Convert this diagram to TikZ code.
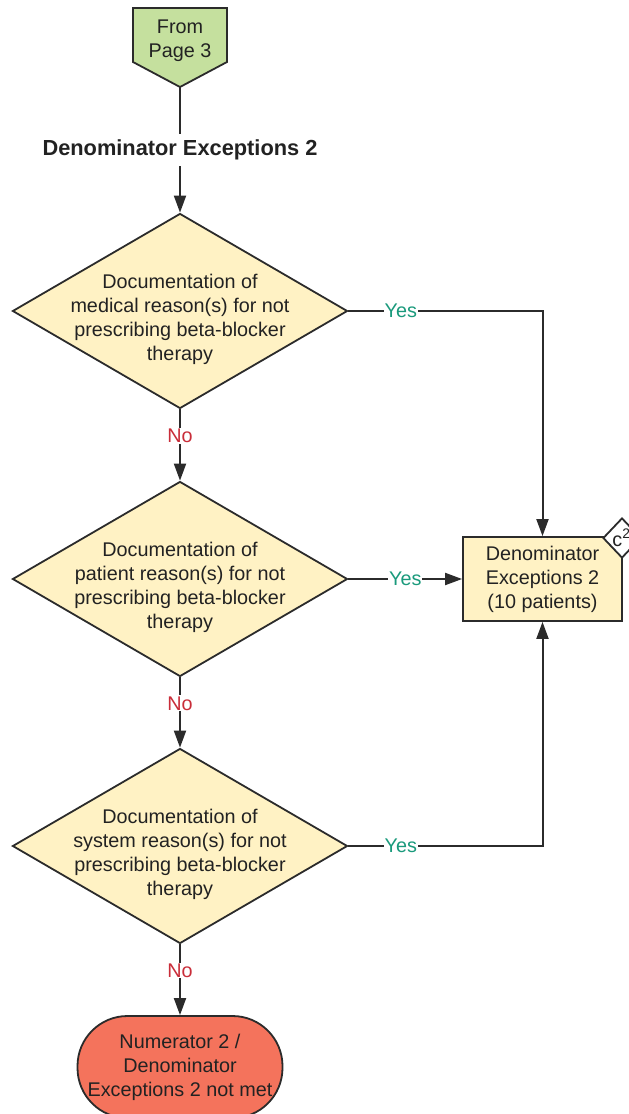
\documentclass[tikz,border=0pt]{standalone}
\usepackage{fontspec}
\setmainfont{Liberation Sans}
\usetikzlibrary{shapes.geometric,arrows.meta}
\definecolor{dfill}{HTML}{FFF2C4}
\definecolor{gfill}{HTML}{C5E09E}
\definecolor{tfill}{HTML}{F4735C}
\definecolor{yescol}{HTML}{1A9A7C}
\definecolor{nocol}{HTML}{C92D39}
\definecolor{linecol}{HTML}{2B2B2B}
\definecolor{txtcol}{HTML}{222222}
\tikzset{
  base/.style={font=\fontsize{19.8}{24}\selectfont, text=txtcol},
  decision/.style={shape=diamond, draw=linecol, line width=1.8pt, fill=dfill, minimum width=335pt, minimum height=195pt, inner sep=0pt},
  dtext/.style={base, align=center},
  procbox/.style={base, draw=linecol, line width=1.8pt, fill=dfill, minimum width=159pt, minimum height=84pt, align=center, inner sep=0pt},
  termbox/.style={base, draw=linecol, line width=1.8pt, fill=tfill, minimum width=205pt, minimum height=102pt, rounded corners=50pt, align=center, inner sep=0pt},
  conn/.style={draw=linecol, line width=2pt},
  arr/.style={conn, -{Triangle[length=17pt,width=12pt]}},
  yeslab/.style={base, text=yescol, fill=white, inner sep=1pt},
  nolab/.style={base, text=nocol, fill=white, inner sep=1pt},
}
\begin{document}
\begin{tikzpicture}[x=1pt,y=-1pt]
\useasboundingbox (0,0) rectangle (629,1114);
% off-page connector
\draw[draw=linecol, line width=1.8pt, fill=gfill] (133,8) -- (227,8) -- (227,62) -- (180,87) -- (133,62) -- cycle;
\node[dtext] (from) at (180,40.5) {From\\Page 3};
\coordinate (fromtip) at (180,87);
% heading
\node[base, font=\fontsize{21.8}{26}\selectfont\bfseries, inner sep=0pt, minimum height=32pt] (head) at (180,150) {Denominator Exceptions 2};
% decisions
\node[decision] (d1) at (180,311) {};
\node[dtext] (t1) at (180,319) {Documentation of\\medical reason(s) for not\\prescribing beta-blocker\\therapy};
\node[decision] (d2) at (180,579) {};
\node[dtext] (t2) at (180,587) {Documentation of\\patient reason(s) for not\\prescribing beta-blocker\\therapy};
\node[decision] (d3) at (180,846) {};
\node[dtext] (t3) at (180,854) {Documentation of\\system reason(s) for not\\prescribing beta-blocker\\therapy};
% result box
\node[procbox] (box) at (542.5,579) {Denominator\\Exceptions 2\\(10 patients)};
\node[shape=diamond, draw=linecol, line width=1.8pt, fill=white, minimum width=38pt, minimum height=40pt, inner sep=0pt, base] (c2) at (622,538) {};
\node[base] (c2t) at (622,538) {\kern-1pt c\textsuperscript{2}};
% terminal
\node[termbox] (term) at (180,1067) {Numerator 2 /\\Denominator\\Exceptions 2 not met};
% connectors
\draw[conn] (fromtip) -- (head.north);
\draw[arr] (head.south) -- (d1.north);
\draw[arr] (d1.south) -- node[nolab, pos=0.37] {No} (d2.north);
\draw[arr] (d2.south) -- node[nolab, pos=0.37] {No} (d3.north);
\draw[arr] (d3.south) -- node[nolab, pos=0.37] {No} (term.north);
\draw[arr] (d1.east) -- node[yeslab, pos=0.27] {Yes} (d1.east -| box.north) -- (box.north);
\draw[arr] (d2.east) -- node[yeslab, pos=0.5] {Yes} (box.west);
\draw[arr] (d3.east) -- node[yeslab, pos=0.27] {Yes} (d3.east -| box.south) -- (box.south);
\end{tikzpicture}
\end{document}
